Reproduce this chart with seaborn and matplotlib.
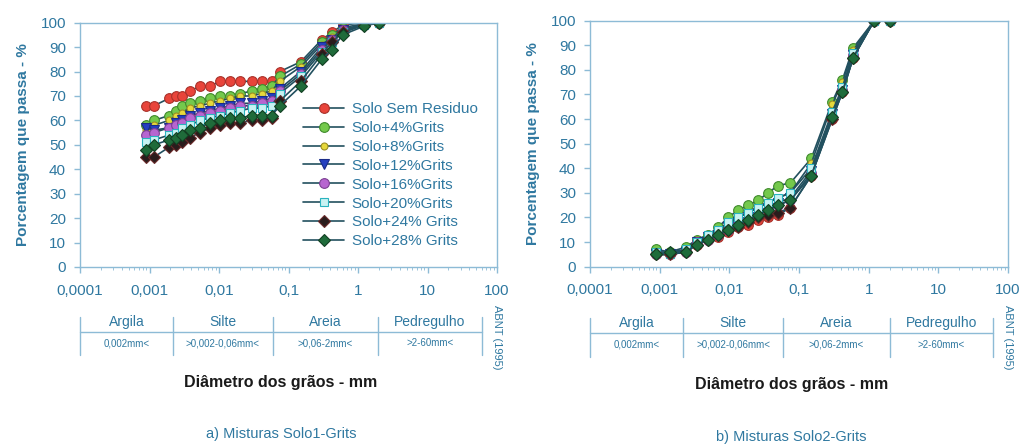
import numpy as np
import pandas as pd
import matplotlib
matplotlib.use("Agg")
import matplotlib.pyplot as plt
from matplotlib.lines import Line2D
from matplotlib.ticker import FixedLocator, LogLocator, NullFormatter
import seaborn as sns

# ---------------- data ----------------
series_names = ["Solo Sem Residuo", "Solo+4%Grits", "Solo+8%Grits", "Solo+12%Grits",
                "Solo+16%Grits", "Solo+20%Grits", "Solo+24% Grits", "Solo+28% Grits"]

# a) Misturas Solo1-Grits
diam_a = [0.00088, 0.00116, 0.0019, 0.0024, 0.0029, 0.0038, 0.0053, 0.0074, 0.0103,
          0.0144, 0.02, 0.0295, 0.041, 0.057, 0.075, 0.15, 0.3, 0.42, 0.6, 1.2, 2.0]
sem_a  = [66, 66, 69, 70, 70, 72, 74, 74, 76, 76, 76, 76, 76, 76, 80, 84, 93, 96, 99, 100, 100]
g4_a   = [58, 60, 62, 64, 66, 67, 68, 69, 70, 70, 71, 72, 73, 74, 78, 83, 92, 95, 98, 99.5, 100]
g8_a   = [56, 58, 60, 62, 63, 65, 66, 67, 68, 69, 70, 70, 71, 72, 76, 82, 91, 94, 97, 99.5, 100]
g12_a  = [57, 56, 57, 59, 60, 62, 63, 64, 65, 66, 67, 67, 68, 69, 73, 80, 90, 93, 97, 99, 100]
g16_a  = [54, 55, 57, 58, 59, 61, 62, 63, 64, 65, 66, 66, 67, 68, 72, 79, 89, 93, 97, 99, 100]
g20_a  = [51, 52, 54, 55, 57, 58, 60, 61, 62, 63, 64, 65, 65, 66, 71, 78, 88, 92, 96, 99, 100]
g24_a  = [45, 45, 49, 50, 51, 53, 55, 57, 58, 59, 59, 60, 60, 61, 68, 76, 87, 92, 96, 99, 100]
g28_a  = [48, 50, 52, 53, 54, 56, 57, 59, 60, 61, 61, 62, 62, 62, 66, 74, 85, 89, 95, 98.5, 100]

# b) Misturas Solo2-Grits
diam_b = [0.0009, 0.0014, 0.0024, 0.0034, 0.005, 0.0069, 0.0096, 0.0134, 0.0187, 0.026,
          0.036, 0.05, 0.075, 0.15, 0.3, 0.42, 0.6, 1.2, 2.0]
sem_b  = [5, 5, 6, 9, 11, 12, 14, 16, 17, 19, 20, 21, 24, 37, 60, 71, 85, 100, 100]
g4_b   = [7, 6, 8, 11, 13, 16, 20, 23, 25, 27, 30, 33, 34, 44, 67, 76, 89, 100, 100]
g8_b   = [6, 6, 7, 11, 12, 14, 17, 20, 22, 24, 26, 28, 30, 42, 66, 75, 88, 100, 100]
g12_b  = [5, 5, 6, 10, 12, 13, 16, 18, 20, 22, 24, 26, 28, 39, 62, 72, 86, 100, 100]
g16_b  = [5, 5, 6, 10, 11, 13, 15, 17, 19, 21, 23, 25, 27, 38, 61, 72, 86, 100, 100]
g20_b  = [6, 5, 7, 10, 13, 15, 18, 20, 22, 24, 26, 28, 30, 40, 63, 73, 87, 100, 100]
g24_b  = [5, 5, 6, 9, 11, 13, 15, 16, 18, 20, 21, 22, 24, 37, 60, 71, 85, 100, 100]
g28_b  = [5, 6, 6, 9, 11, 13, 15, 17, 19, 21, 23, 25, 27, 37, 61, 71, 85, 100, 100]

x_ticks = [0.0001, 0.001, 0.01, 0.1, 1, 10, 100]
x_tick_labels = ["0,0001", "0,001", "0,01", "0,1", "1", "10", "100"]
y_ticks = list(range(0, 101, 10))

classes = ["Argila", "Silte", "Areia", "Pedregulho"]
class_ranges = ["0,002mm<", ">0,002-0,06mm<", ">0,06-2mm<", ">2-60mm<"]

# ---------------- style ----------------
sns.set_style("white")
plt.rcParams["font.family"] = ["Liberation Sans", "DejaVu Sans"]

TEXT = "#2F78A0"
SPINE = "#8DBBD6"
LINE = "#22505F"

marker_styles = [
    dict(marker="o", mfc="#E8443A", mec="#A8322A", ms=7),
    dict(marker="o", mfc="#74C94C", mec="#3F8A2C", ms=7),
    dict(marker="o", mfc="#E6D83C", mec="#9C8F22", ms=5),
    dict(marker="v", mfc="#2440C0", mec="#1A2C88", ms=7),
    dict(marker="o", mfc="#B765D0", mec="#7C3F92", ms=7),
    dict(marker="s", mfc="#C8F2F2", mec="#2AB3BF", ms=6),
    dict(marker="D", mfc="#2A1C1C", mec="#6A2A2A", ms=6),
    dict(marker="D", mfc="#1F6B3A", mec="#123F22", ms=6),
]

W, H = 1021, 445
fig = plt.figure(figsize=(W / 100, H / 100), dpi=100)


def draw_panel(rect, diam, series, show_legend):
    ax = fig.add_axes(rect)
    for name, vals, st in zip(series_names, series, marker_styles):
        df = pd.DataFrame({"d": diam, "p": vals})
        sns.lineplot(data=df, x="d", y="p", ax=ax, color=LINE, lw=1.2,
                     marker=st["marker"], markerfacecolor=st["mfc"],
                     markeredgecolor=st["mec"], markersize=st["ms"],
                     markeredgewidth=0.8, label=name, legend=False)
    ax.set_xscale("log")
    ax.set_xlim(1e-4, 100)
    ax.set_ylim(0, 100)
    ax.xaxis.set_major_locator(FixedLocator(x_ticks))
    ax.set_xticklabels(x_tick_labels)
    ax.xaxis.set_minor_locator(LogLocator(base=10, subs=np.arange(2, 10)))
    ax.xaxis.set_minor_formatter(NullFormatter())
    ax.set_yticks(y_ticks)
    ax.tick_params(axis="both", which="major", labelsize=11, labelcolor=TEXT,
                   color=SPINE, length=4, width=1, direction="out")
    ax.tick_params(axis="x", which="major", pad=8)
    ax.tick_params(axis="x", which="minor", length=2, color=SPINE, direction="out")
    ax.tick_params(axis="y", pad=6)
    ax.tick_params(bottom=True, left=True, which="both")
    ax.tick_params(axis="y", which="minor", left=False)
    for s in ax.spines.values():
        s.set_color(SPINE)
        s.set_linewidth(1.0)
    ax.set_xlabel("")
    ax.set_ylabel("Porcentagem que passa - %", fontsize=11, fontweight="bold",
                  color=TEXT, labelpad=8)
    if show_legend:
        handles = [Line2D([], [], color=LINE, lw=1.2, marker=st["marker"],
                          markerfacecolor=st["mfc"], markeredgecolor=st["mec"],
                          markersize=st["ms"], markeredgewidth=0.8)
                   for st in marker_styles]
        leg = ax.legend(handles, series_names, loc="upper left",
                        bbox_to_anchor=(0.52, 0.70), frameon=False,
                        fontsize=11, handlelength=2.7, handletextpad=0.5,
                        labelspacing=0.32, borderaxespad=0)
        for t in leg.get_texts():
            t.set_color(TEXT)
    return ax


def draw_table(xs, ytop, ymid, ybot, abnt_x, label_y, caption, cap_y):
    for x in xs:
        fig.add_artist(Line2D([x / W, x / W], [1 - ytop / H, 1 - ybot / H],
                              color=SPINE, lw=1.0, transform=fig.transFigure))
    fig.add_artist(Line2D([xs[0] / W, xs[-1] / W], [1 - ymid / H, 1 - ymid / H],
                          color=SPINE, lw=1.0, transform=fig.transFigure))
    for i in range(4):
        cx = (xs[i] + xs[i + 1]) / 2 / W
        fig.text(cx, 1 - (ytop + 5.5) / H, classes[i], ha="center", va="center",
                 fontsize=10, color=TEXT)
        fig.text(cx, 1 - (ymid + 11.5) / H, class_ranges[i], ha="center", va="center",
                 fontsize=7, color=TEXT)
    fig.text(abnt_x / W, 1 - 337 / H, "ABNT (1995)", rotation=-90, ha="center",
             va="center", fontsize=8, color=TEXT)
    fig.text((xs[0] + xs[-1]) / 2 / W, 1 - label_y / H, "Diâmetro dos grãos - mm",
             ha="center", va="center", fontsize=11.5, fontweight="bold", color="#1A1A1A")
    fig.text((xs[0] + xs[-1]) / 2 / W, 1 - cap_y / H, caption, ha="center",
             va="center", fontsize=10.5, color=TEXT)


series_a = [sem_a, g4_a, g8_a, g12_a, g16_a, g20_a, g24_a, g28_a]
series_b = [sem_b, g4_b, g8_b, g12_b, g16_b, g20_b, g24_b, g28_b]

draw_panel([80 / W, 1 - 267 / H, (497 - 80) / W, (267 - 22.7) / H], diam_a, series_a, True)
draw_panel([590 / W, 1 - 266.7 / H, (1008 - 590) / W, (266.7 - 20.7) / H], diam_b, series_b, False)

draw_table([80, 173, 273, 378, 482], 316.7, 331.7, 355, 497, 382.7,
           "a) Misturas Solo1-Grits", 434)
draw_table([590, 683, 783, 890, 993], 317.5, 333, 356.7, 1008, 384,
           "b) Misturas Solo2-Grits", 436.5)

fig.savefig("out.png", dpi=100)
